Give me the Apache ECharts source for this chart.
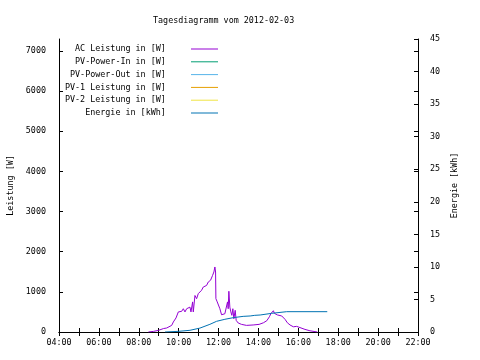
<!DOCTYPE html>
<html><head><meta charset="utf-8">
<script src="https://cdn.jsdelivr.net/npm/echarts@6/dist/echarts.min.js"></script>
<style>html,body{margin:0;padding:0;background:#fff}#c{width:480px;height:360px}</style>
</head><body><div id="c"></div>
<script>
var titleText = 'Tagesdiagramm vom 2012-02-03';
var seriesNames = ['AC Leistung in [W]','PV-Power-In in [W]','PV-Power-Out in [W]','PV-1 Leistung in [W]','PV-2 Leistung in [W]','Energie in [kWh]'];
var xTickLabels = ['04:00','06:00','08:00','10:00','12:00','14:00','16:00','18:00','20:00','22:00'];
var acTimes = ['08:29','08:44','08:59','09:14','09:24','09:30','09:39','09:44','09:52','09:59','10:09','10:14','10:19','10:24','10:34','10:37','10:42','10:44','10:49','10:54','10:59','11:04','11:09','11:14','11:24','11:29','11:36','11:42','11:46','11:49','11:51','11:52','11:56','12:01','12:04','12:09','12:14','12:19','12:24','12:27','12:29','12:31','12:34','12:37','12:40','12:43','12:46','12:50','12:53','12:59','13:09','13:24','13:44','14:02','14:15','14:25','14:33','14:38','14:45','14:48','14:53','14:57','15:03','15:10','15:15','15:20','15:27','15:35','15:45','15:55','16:05','16:20','16:35','16:50','16:57'];
var acValues = [0,15,40,85,100,90,165,250,350,500,515,580,500,580,620,500,750,500,910,830,955,910,1040,1120,1160,1245,1290,1410,1495,1620,1495,830,750,705,580,430,415,455,500,750,580,1015,620,500,415,580,330,540,290,225,190,165,175,190,230,280,380,465,530,465,505,425,445,400,425,315,230,175,130,140,110,65,30,10,0];
var enTimes = ['09:19','09:59','10:34','11:04','11:34','11:54','12:19','12:44','13:14','13:35','13:49','14:05','14:40','15:25','17:27'];
var enValues = [0,0.1,0.26,0.6,1.18,1.64,1.95,2.2,2.4,2.46,2.56,2.61,2.87,3.12,3.12];
var colors = ['#9400d3','#009e73','#56b4e9','#e69f00','#f0e442','#0072b2'];

function toH(t){var p=t.split(':');return +p[0]+(+p[1])/60;}
function pairs(ts,vs){return ts.map(function(t,i){return [toH(t),vs[i]];});}
var F = 'DejaVu Sans Mono';
var FS = 8.4;
var chart = echarts.init(document.getElementById('c'),null,{renderer:'canvas'});
var axisLine = {show:true,lineStyle:{color:'#000',width:1}};
var tick = {show:true,inside:true,length:4,lineStyle:{color:'#000'}};
var series = seriesNames.map(function(n,i){
  return {name:n,type:'line',symbol:'none',color:colors[i],lineStyle:{width:1,color:colors[i]},data:[],animation:false,xAxisIndex:0,yAxisIndex:0};
});
series[0].data = pairs(acTimes,acValues);
series[5].data = pairs(enTimes,enValues);
series[5].yAxisIndex = 1;
chart.setOption({
  animation:false,
  title:{text:titleText,left:148,top:12,textStyle:{fontFamily:F,fontSize:FS,fontWeight:'normal',color:'#000'}},
  legend:{orient:'vertical',right:257,top:40,align:'right',icon:'rect',itemWidth:27,itemHeight:1,itemGap:4.8,
    data:seriesNames,selectedMode:false,
    formatter:function(n){return n+'    ';},
    textStyle:{fontFamily:F,fontSize:FS,color:'#000',lineHeight:8}},
  grid:{left:59,right:62,top:39,bottom:28,show:false,containLabel:false,outerBoundsMode:'none'},
  xAxis:[
    {type:'value',min:4,max:22,interval:1,position:'bottom',axisLine:axisLine,axisTick:tick,splitLine:{show:false},
      axisLabel:{margin:7,fontFamily:F,fontSize:FS,color:'#000',
        formatter:function(v){var s=(v<10?'0':'')+v+':00';return xTickLabels.indexOf(s)>=0?s:'';}}},
    {type:'value',min:4,max:22,interval:1,position:'top',axisLine:axisLine,axisTick:tick,splitLine:{show:false},axisLabel:{show:false}}
  ],
  yAxis:[
    {type:'value',min:0,max:7300,interval:1000,position:'left',axisLine:axisLine,axisTick:tick,splitLine:{show:false},
      name:'Leistung [W]',nameLocation:'middle',nameGap:43,nameRotate:90,nameTextStyle:{fontFamily:F,fontSize:FS,color:'#000'},
      axisLabel:{margin:13,showMaxLabel:false,fontFamily:F,fontSize:FS,color:'#000',formatter:function(v){return String(v);}}},
    {type:'value',min:0,max:45,interval:5,position:'right',axisLine:axisLine,axisTick:tick,splitLine:{show:false},
      name:'Energie [kWh]',nameLocation:'middle',nameGap:31,nameRotate:90,nameTextStyle:{fontFamily:F,fontSize:FS,color:'#000'},
      axisLabel:{margin:12,fontFamily:F,fontSize:FS,color:'#000',formatter:function(v){return String(v);}}},
    {type:'value',min:0,max:7300,interval:1000,position:'right',offset:0,axisLine:{show:false},axisTick:tick,splitLine:{show:false},axisLabel:{show:false}}
  ],
  series:series
});
</script></body></html>
